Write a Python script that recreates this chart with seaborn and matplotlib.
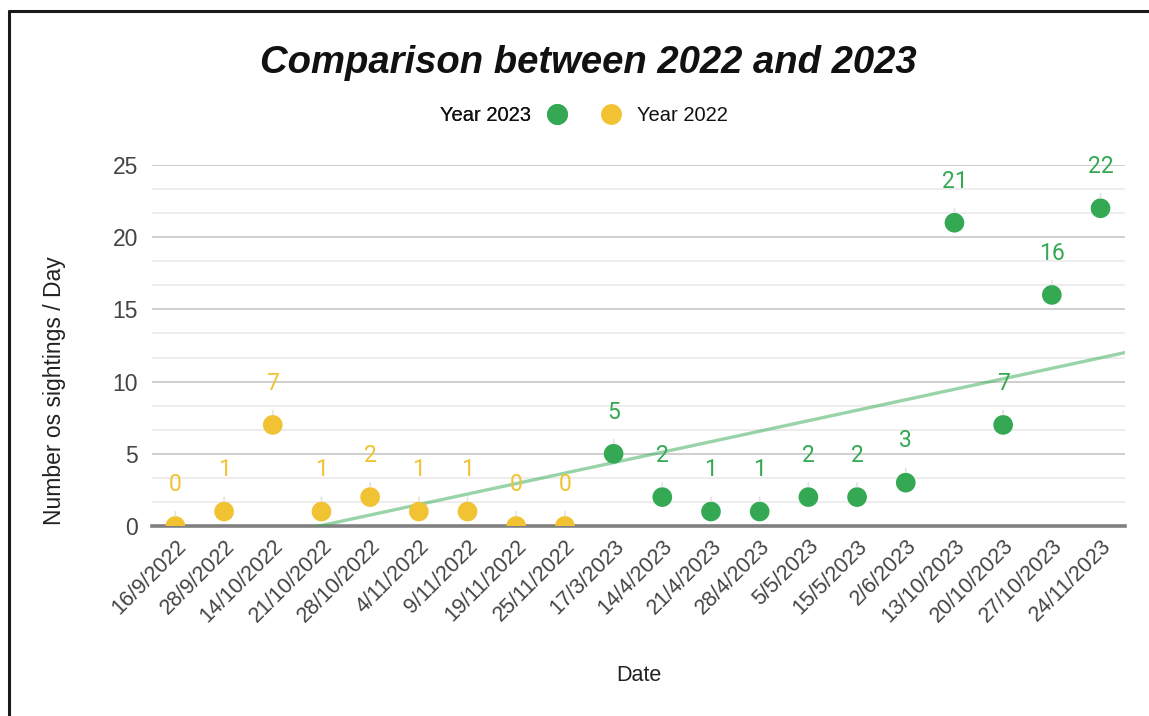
import numpy as np
import pandas as pd
import matplotlib
matplotlib.use("Agg")
import matplotlib.pyplot as plt
from matplotlib.lines import Line2D
from matplotlib.ticker import MultipleLocator
import seaborn as sns

# Sighting dates (category axis) and counts per day for each season
dates_2022 = ["16/9/2022", "28/9/2022", "14/10/2022", "21/10/2022", "28/10/2022",
              "4/11/2022", "9/11/2022", "19/11/2022", "25/11/2022"]
counts_2022 = [0, 1, 7, 1, 2, 1, 1, 0, 0]

dates_2023 = ["17/3/2023", "14/4/2023", "21/4/2023", "28/4/2023", "5/5/2023",
              "15/5/2023", "2/6/2023", "13/10/2023", "20/10/2023", "27/10/2023",
              "24/11/2023"]
counts_2023 = [5, 2, 1, 1, 2, 2, 3, 21, 7, 16, 22]

series_names = ["Year 2023", "Year 2022"]
series_colors = {"Year 2023": "#34a853", "Year 2022": "#f1c232"}

all_dates = dates_2022 + dates_2023
df = pd.DataFrame({
    "date": all_dates,
    "pos": np.arange(len(all_dates)),
    "count": counts_2022 + counts_2023,
    "series": ["Year 2022"] * len(dates_2022) + ["Year 2023"] * len(dates_2023),
})

sns.set_theme(style="white")
plt.rcParams["font.family"] = ["Liberation Sans", "DejaVu Sans"]

fig = plt.figure(figsize=(11.49, 7.16), dpi=100)
ax = fig.add_axes([0.1323, 0.2654, 0.8467, 0.5042])

ax.set_xlim(-0.48, len(all_dates) - 0.5)
ax.set_ylim(0, 25)

# Grid: major every 5, lighter minor lines in thirds
ax.yaxis.set_major_locator(MultipleLocator(5))
ax.yaxis.set_minor_locator(MultipleLocator(5 / 3))
ax.grid(axis="y", which="major", color="#cfcfcf", lw=1.4, zorder=0)
ax.grid(axis="y", which="minor", color="#ededed", lw=1.4, zorder=0)
ax.set_axisbelow(True)
for side in ["top", "right", "left"]:
    ax.spines[side].set_visible(False)
ax.spines["bottom"].set_color("#808080")
ax.spines["bottom"].set_linewidth(2.6)
ax.spines["bottom"].set_zorder(1)

# Linear trendline over all points
sns.regplot(data=df, x="pos", y="count", scatter=False, ci=None, truncate=False,
            ax=ax, line_kws={"color": "#34a853", "alpha": 0.5, "lw": 2.4, "zorder": 2})

sns.scatterplot(data=df, x="pos", y="count", hue="series", palette=series_colors,
                s=200, edgecolor="none", ax=ax, legend=False, zorder=3)

# Data labels with leader lines
for _, row in df.iterrows():
    ax.annotate(str(row["count"]), xy=(row["pos"], row["count"]),
                xytext=(0, 30), textcoords="offset points",
                ha="center", va="center", fontsize=16.5, family="Roboto",
                color=series_colors[row["series"]], zorder=4,
                arrowprops=dict(arrowstyle="-", color="#e2e2e2", lw=1.2,
                                shrinkA=9, shrinkB=7.5))

ax.set_xticks(df["pos"])
ax.set_xticklabels(df["date"], rotation=45, ha="right", rotation_mode="anchor",
                   fontsize=15.5, color="#444444")
ax.tick_params(axis="x", length=0, pad=7)
ax.tick_params(axis="y", which="both", length=0, pad=10, labelsize=16.5, labelcolor="#444444")
ax.set_yticks([0, 5, 10, 15, 20, 25])

ax.set_xlabel("Date", fontsize=15.5, color="#222222", labelpad=27)
ax.set_ylabel("Number os sightings / Day", fontsize=16.5, color="#222222")
ax.yaxis.set_label_coords(-0.0884, 0.374)

fig.suptitle("Comparison between 2022 and 2023", x=0.512, y=0.937,
             fontsize=27.5, fontweight="bold", fontstyle="italic", color="#111111")

# Legend: first entry with text before marker, second with marker before text
h23 = Line2D([], [], ls="none", marker="o", markersize=15,
             markerfacecolor=series_colors["Year 2023"], markeredgecolor="none")
h22 = Line2D([], [], ls="none", marker="o", markersize=15,
             markerfacecolor=series_colors["Year 2022"], markeredgecolor="none")
leg1 = fig.legend([h23], [series_names[0]], loc="center right", bbox_to_anchor=(0.4935, 0.838),
                  frameon=False, markerfirst=False, fontsize=14.5, handlelength=1.0,
                  handletextpad=0.8, borderpad=0, borderaxespad=0, labelcolor="#111111")
fig.add_artist(leg1)
leg2 = fig.legend([h22], [series_names[1]], loc="center left", bbox_to_anchor=(0.523, 0.838),
                  frameon=False, markerfirst=True, fontsize=14.5, handlelength=1.0,
                  handletextpad=0.8, borderpad=0, borderaxespad=0, labelcolor="#111111")

# Frame edges along the top and left of the figure
fig.add_artist(Line2D([0.0078, 1.0], [0.985, 0.985], transform=fig.transFigure,
                      color="#1a1a1a", lw=2.2))
fig.add_artist(Line2D([0.0078, 0.0078], [0.0, 0.985], transform=fig.transFigure,
                      color="#1a1a1a", lw=2.2))

fig.savefig("out.png", dpi=100, facecolor="white")
